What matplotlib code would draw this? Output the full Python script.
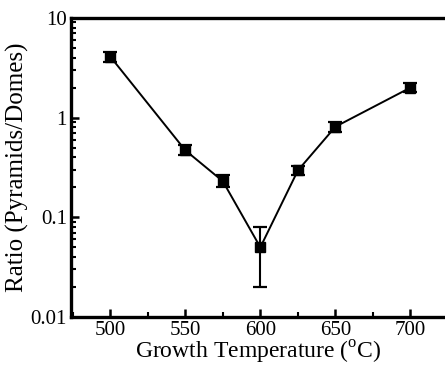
import matplotlib
matplotlib.use("Agg")
import matplotlib.pyplot as plt
from matplotlib.ticker import FixedLocator, FixedFormatter, LogLocator, NullFormatter, MultipleLocator

plt.rcParams['font.family'] = ['Liberation Serif', 'DejaVu Serif']
plt.rcParams['mathtext.fontset'] = 'custom'
plt.rcParams['mathtext.rm'] = 'Liberation Serif'

# data
temps = [500, 550, 575, 600, 625, 650, 700]
ratio = [4.1, 0.47, 0.23, 0.05, 0.295, 0.81, 2.0]
err_low = [0.45, 0.05, 0.03, 0.03, 0.03, 0.09, 0.2]
err_high = [0.5, 0.06, 0.035, 0.03, 0.035, 0.1, 0.22]

y_ticks = [0.01, 0.1, 1, 10]
y_labels = ["0.01", "0.1", "1", "10"]
x_ticks = [500, 550, 600, 650, 700]

fig = plt.figure(figsize=(4.45, 3.66), dpi=100)
ax = fig.add_axes([0.16, 0.134, 0.84, 0.817])

ax.errorbar(temps, ratio, yerr=[err_low, err_high], color='black', lw=1.4,
            marker='s', markersize=7.5, capsize=5, capthick=1.6, elinewidth=1.5)

ax.set_yscale('log')
ax.set_ylim(0.01, 10)
ax.set_xlim(474, 723)

ax.yaxis.set_major_locator(FixedLocator(y_ticks))
ax.yaxis.set_major_formatter(FixedFormatter(y_labels))
ax.yaxis.set_minor_locator(LogLocator(base=10, subs=range(2, 10)))
ax.yaxis.set_minor_formatter(NullFormatter())
ax.xaxis.set_major_locator(FixedLocator(x_ticks))
ax.xaxis.set_minor_locator(MultipleLocator(25))

ax.tick_params(which='major', direction='in', length=6, width=1.8, labelsize=15, pad=3)
ax.tick_params(which='minor', direction='in', length=3.5, width=1.5)
ax.tick_params(axis='x', which='both', top=False)
ax.tick_params(axis='y', which='both', right=False)

for side in ['left', 'bottom', 'top']:
    ax.spines[side].set_linewidth(2.4)
ax.spines['right'].set_visible(False)

ax.set_xlabel("Growth Temperature ($^{\\mathrm{o}}$C)", fontsize=17, labelpad=-1)
ax.set_ylabel("Ratio (Pyramids/Domes)", fontsize=18, labelpad=1)

fig.savefig("out.png", dpi=100)
